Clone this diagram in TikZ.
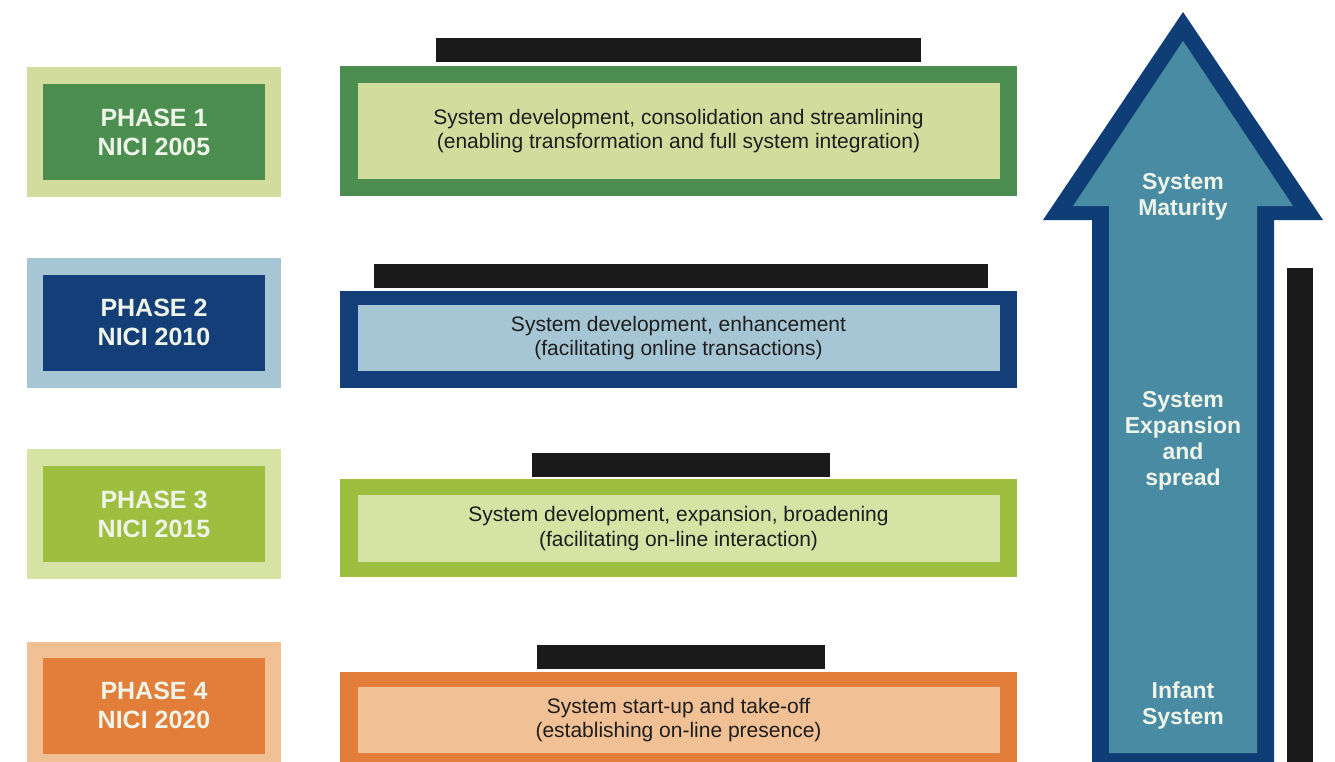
\documentclass[tikz,border=0pt]{standalone}
\usepackage{fontspec}
\setmainfont{Liberation Sans}
\definecolor{gOut}{HTML}{D2DC9C}
\definecolor{gDark}{HTML}{4B8E4F}
\definecolor{bLight}{HTML}{A7C6D5}
\definecolor{bDark}{HTML}{143E77}
\definecolor{lLight}{HTML}{D7E3A5}
\definecolor{lDark}{HTML}{9DBE3E}
\definecolor{oLight}{HTML}{F2C095}
\definecolor{oDark}{HTML}{E27D3A}
\definecolor{arrDark}{HTML}{0F3D75}
\definecolor{arrFill}{HTML}{4A8BA4}
\definecolor{barBlack}{HTML}{1A1A1A}
\definecolor{lightText}{HTML}{EEF4E8}
\definecolor{midText}{HTML}{1E1E1E}
\begin{document}
\begin{tikzpicture}[x=1pt,y=-1pt,
  lout/.style={minimum width=254pt, minimum height=130pt, inner sep=0pt},
  lin/.style={minimum width=222pt, minimum height=96pt, inner sep=0pt, text=lightText,
    font=\fontsize{25}{29}\selectfont\bfseries, align=center},
  rout/.style={minimum width=677pt, inner sep=0pt},
  rin/.style={minimum width=642pt, inner sep=0pt, text=midText,
    font=\fontsize{21}{24.5}\selectfont, align=center},
  topbar/.style={fill=barBlack, minimum height=24pt, inner sep=0pt},
  atext/.style={text=lightText, font=\fontsize{23}{26}\selectfont\bfseries, align=center}]
\useasboundingbox[fill=white] (0,0) rectangle (1335,762);

% ---- big arrow ----
\fill[arrDark] (1183,12) -- (1323,220) -- (1274,220) -- (1274,775) -- (1092,775)
  -- (1092,220) -- (1043,220) -- cycle;
\fill[arrFill] (1183,41) -- (1293,206) -- (1257,206) -- (1257,753) -- (1109,753)
  -- (1109,206) -- (1073,206) -- cycle;
\node[atext] (mat) at (1183,197) {System\\Maturity};
\node[atext] (exp) at (1183,441) {System\\Expansion\\and\\spread};
\node[atext] (inf) at (1183,706) {Infant\\System};
% vertical black bar
\fill[barBlack] (1287,268) rectangle (1313,775);

% ---- Phase 1 ----
\node[lout, fill=gOut] (l1o) at (154,132) {};
\node[lin, fill=gDark] (l1) at (154,132) {PHASE 1\\NICI 2005};
\node[topbar, minimum width=485pt] (b1) at (678.5,50.5) {};
\node[rout, minimum height=130pt, fill=gDark] (r1o) at (678.5,131) {};
\node[rin, minimum height=96pt, fill=gOut] (r1) at (678.5,131)
  {System development, consolidation and streamlining\\(enabling transformation and full system integration)};

% ---- Phase 2 ----
\node[lout, fill=bLight] (l2o) at (154,322.5) {};
\node[lin, fill=bDark] (l2) at (154,322.5) {PHASE 2\\NICI 2010};
\node[topbar, minimum width=614pt] (b2) at (681,276) {};
\node[rout, minimum height=97pt, fill=bDark] (r2o) at (678.5,339.5) {};
\node[rin, minimum height=66pt, fill=bLight] (r2) at (678.5,338)
  {System development, enhancement\\(facilitating online transactions)};

% ---- Phase 3 ----
\node[lout, fill=lLight] (l3o) at (154,514) {};
\node[lin, fill=lDark] (l3) at (154,514) {PHASE 3\\NICI 2015};
\node[topbar, minimum width=298pt] (b3) at (681,464.5) {};
\node[rout, minimum height=98pt, fill=lDark] (r3o) at (678.5,528) {};
\node[rin, minimum height=67pt, fill=lLight] (r3) at (678.5,528.5)
  {System development, expansion, broadening\\(facilitating on-line interaction)};

% ---- Phase 4 ----
\node[lout, fill=oLight] (l4o) at (154,707) {};
\node[lin, fill=oDark] (l4) at (154,705.5) {PHASE 4\\NICI 2020};
\node[topbar, minimum width=288pt] (b4) at (681,656.5) {};
\node[rout, minimum height=98pt, fill=oDark] (r4o) at (678.5,721) {};
\node[rin, minimum height=66pt, fill=oLight] (r4) at (678.5,720)
  {System start-up and take-off\\(establishing on-line presence)};
\end{tikzpicture}
\end{document}
